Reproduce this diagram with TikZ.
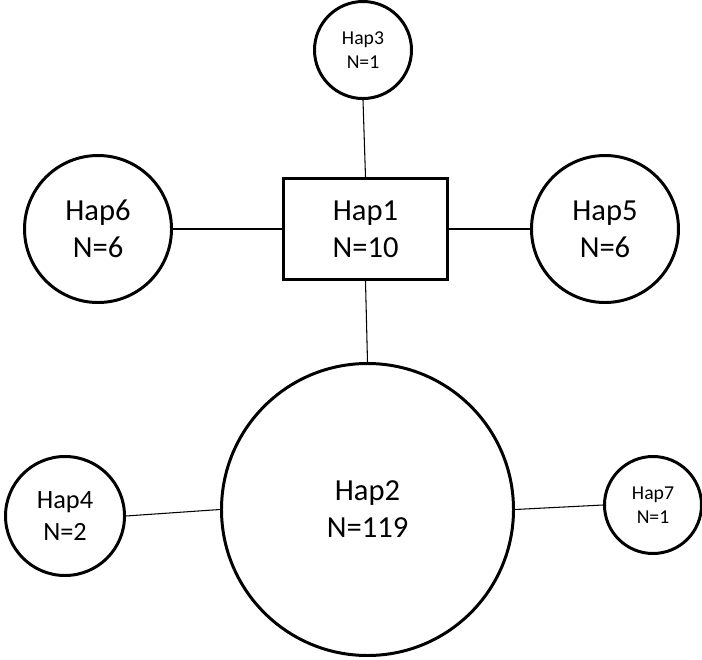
\documentclass[tikz,border=0pt]{standalone}
\usepackage{fontspec}
\setmainfont{Carlito}
\usetikzlibrary{positioning}

\begin{document}
\begin{tikzpicture}[
  hapbox/.style={draw, line width=1.7pt, minimum width=3.28cm, minimum height=2.02cm,
                 align=center, font=\fontsize{17.4}{21}\selectfont},
  hapbig/.style={draw, circle, line width=1.7pt, inner sep=0pt, align=center,
                 font=\fontsize{17.4}{21}\selectfont},
  hapmid/.style={draw, circle, line width=1.7pt, inner sep=0pt, align=center,
                 font=\fontsize{15}{18.5}\selectfont},
  hapsmall/.style={draw, circle, line width=1.7pt, inner sep=0pt, align=center,
                   font=\fontsize{11.2}{14}\selectfont},
  link/.style={line width=0.6pt},
]
\useasboundingbox (-7.31,-8.60) rectangle (6.73,4.58);

% central haplotype
\node[hapbox] (h1) {Hap1\\N=10};

% around Hap1
\node[hapsmall, minimum size=1.94cm, above=1.54cm of h1, xshift=-0.05cm] (h3) {Hap3\\N=1};
\node[hapbig, minimum size=2.94cm, left=2.18cm of h1] (h6) {Hap6\\N=6};
\node[hapbig, minimum size=2.94cm, right=1.62cm of h1] (h5) {Hap5\\N=6};

% main haplotype
\node[hapbig, minimum size=5.84cm, below=1.62cm of h1, xshift=0.04cm] (h2) {Hap2\\N=119};

% around Hap2
\node[hapmid, minimum size=2.38cm, left=1.88cm of h2, yshift=-0.13cm] (h4) {Hap4\\N=2};
\node[hapsmall, minimum size=1.94cm, right=1.76cm of h2, yshift=0.09cm] (h7) {Hap7\\N=1};

% links
\draw[link] (h3.south) -- (h1.north);
\draw[link] (h6.east) -- (h1.west);
\draw[link] (h1.east) -- (h5.west);
\draw[link] (h1.south) -- (h2.north);
\draw[link] (h4.east) -- (h2.west);
\draw[link] (h2.east) -- (h7.west);

\end{tikzpicture}
\end{document}
